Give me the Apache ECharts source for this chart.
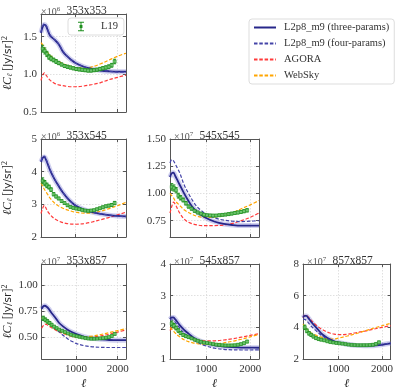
<!DOCTYPE html>
<html>
<head>
<meta charset="utf-8">
<script src="https://cdn.jsdelivr.net/npm/echarts@6/dist/echarts.min.js"></script>
<style>html,body{margin:0;padding:0;background:#fff}#c{width:396px;height:391px}</style>
</head>
<body>
<div id="c"></div>
<script>
// ---------- data ----------
const ellModel = [180,220,260,300,350,400,500,600,700,800,900,1000,1200,1400,1600,1800,2000,2200];
const ellL19 = [220,270,320,370,420,480,540,600,670,740,810,880,950,1020,1090,1160,1230,1300,1370,1440,1510,1580,1650,1720,1790,1860,1930];
const panelNames = ['353x353','353x545','545x545','353x857','545x857','857x857'];
const panelExponent = [6,6,7,7,7,7];
const yTicks = [[0.5,1.0,1.5],[2,3,4,5],[0.75,1.00,1.25,1.50],[0.50,0.75,1.00],[1,2,3,4],[2,4,6,8]];
const yRange = [[0.5,1.8],[2,5],[0.6,1.5],[0.29,1.2],[1,4],[2,8]];
const xTicks = [1000,2000];

const three_353x353 = [1.55,1.63,1.66,1.64,1.57,1.51,1.46,1.40,1.30,1.24,1.19,1.15,1.10,1.07,1.05,1.04,1.035,1.035];
const four_353x353  = [1.56,1.64,1.67,1.65,1.58,1.52,1.46,1.40,1.31,1.24,1.19,1.15,1.10,1.07,1.05,1.04,1.03,1.03];
const agora_353x353 = [0.92,0.99,1.02,0.99,0.95,0.92,0.88,0.86,0.85,0.84,0.835,0.835,0.845,0.865,0.89,0.93,0.96,0.99];
const websky_353x353= [1.42,1.39,1.35,1.31,1.28,1.25,1.20,1.17,1.14,1.12,1.10,1.09,1.08,1.10,1.14,1.19,1.24,1.28];
const l19_353x353   = [1.34,1.31,1.27,1.23,1.21,1.19,1.17,1.15,1.13,1.11,1.10,1.09,1.08,1.07,1.065,1.06,1.055,1.05,1.05,1.055,1.06,1.07,1.08,1.09,1.10,1.12,1.17];
const err_353x353   = [0.045,0.04,0.035,0.03,0.03,0.025,0.025,0.022,0.02,0.02,0.02,0.02,0.02,0.02,0.02,0.02,0.02,0.02,0.02,0.02,0.02,0.022,0.022,0.022,0.025,0.025,0.03];

const three_353x545 = [4.30,4.42,4.45,4.36,4.20,4.03,3.77,3.56,3.36,3.20,3.07,2.96,2.84,2.76,2.71,2.67,2.645,2.63];
const four_353x545  = [4.33,4.45,4.48,4.39,4.22,4.05,3.78,3.57,3.37,3.21,3.08,2.97,2.84,2.76,2.71,2.67,2.64,2.62];
const agora_353x545 = [2.72,2.88,2.97,2.88,2.76,2.68,2.56,2.49,2.44,2.41,2.395,2.39,2.41,2.46,2.53,2.60,2.68,2.76];
const websky_353x545= [3.65,3.55,3.46,3.38,3.28,3.18,3.04,2.95,2.88,2.83,2.79,2.76,2.73,2.74,2.79,2.87,2.96,3.06];
const l19_353x545   = [3.72,3.65,3.58,3.53,3.45,3.31,3.24,3.18,3.10,3.04,2.97,2.92,2.89,2.87,2.85,2.83,2.81,2.80,2.81,2.82,2.85,2.88,2.91,2.94,2.96,2.98,3.04];
const err_353x545   = [0.09,0.08,0.07,0.06,0.055,0.05,0.045,0.04,0.04,0.035,0.035,0.035,0.035,0.035,0.035,0.035,0.035,0.035,0.035,0.035,0.035,0.035,0.04,0.04,0.04,0.045,0.05];

const three_545x545 = [1.15,1.185,1.19,1.16,1.12,1.08,1.00,0.93,0.87,0.83,0.80,0.775,0.74,0.72,0.71,0.705,0.705,0.705];
const four_545x545  = [1.28,1.31,1.30,1.27,1.23,1.19,1.08,1.00,0.93,0.875,0.84,0.81,0.775,0.755,0.745,0.742,0.745,0.75];
const agora_545x545 = [0.82,0.88,0.92,0.90,0.86,0.82,0.765,0.735,0.72,0.71,0.705,0.705,0.705,0.71,0.725,0.75,0.78,0.82];
const websky_545x545= [1.00,0.98,0.96,0.93,0.91,0.89,0.85,0.825,0.805,0.79,0.782,0.78,0.785,0.80,0.825,0.86,0.895,0.935];
const l19_545x545   = [1.06,1.05,1.03,0.98,0.96,0.94,0.91,0.88,0.86,0.84,0.825,0.815,0.805,0.80,0.798,0.797,0.797,0.80,0.803,0.806,0.81,0.815,0.82,0.825,0.83,0.837,0.845];
const err_545x545   = [0.03,0.028,0.025,0.022,0.02,0.018,0.016,0.014,0.013,0.012,0.012,0.011,0.011,0.011,0.011,0.011,0.011,0.011,0.011,0.011,0.012,0.012,0.012,0.013,0.013,0.014,0.015];

const three_353x857 = [0.77,0.795,0.80,0.79,0.77,0.74,0.69,0.635,0.60,0.57,0.548,0.53,0.503,0.488,0.478,0.472,0.47,0.47];
const four_353x857  = [0.665,0.675,0.675,0.665,0.645,0.625,0.585,0.55,0.515,0.485,0.46,0.44,0.418,0.407,0.402,0.40,0.40,0.40];
const agora_353x857 = [0.585,0.61,0.625,0.62,0.605,0.595,0.57,0.55,0.533,0.52,0.507,0.50,0.495,0.50,0.512,0.528,0.548,0.568];
const websky_353x857= [0.685,0.67,0.655,0.64,0.625,0.61,0.585,0.56,0.54,0.525,0.513,0.506,0.503,0.51,0.525,0.543,0.562,0.58];
const l19_353x857   = [0.68,0.665,0.65,0.635,0.618,0.60,0.585,0.572,0.56,0.548,0.535,0.523,0.515,0.508,0.502,0.496,0.49,0.486,0.484,0.484,0.485,0.488,0.49,0.494,0.50,0.51,0.53];
const err_353x857   = [0.02,0.018,0.016,0.014,0.013,0.012,0.011,0.01,0.009,0.009,0.008,0.008,0.008,0.008,0.008,0.008,0.008,0.008,0.008,0.008,0.008,0.008,0.009,0.009,0.009,0.01,0.011];

const three_545x857 = [2.26,2.31,2.31,2.25,2.16,2.07,1.92,1.80,1.69,1.61,1.55,1.50,1.43,1.395,1.375,1.362,1.358,1.356];
const four_545x857  = [2.22,2.24,2.22,2.16,2.07,1.98,1.82,1.70,1.61,1.53,1.46,1.41,1.34,1.305,1.29,1.285,1.285,1.29];
const agora_545x857 = [1.90,1.98,2.00,1.96,1.90,1.84,1.74,1.68,1.63,1.60,1.58,1.57,1.575,1.60,1.64,1.69,1.745,1.80];
const websky_545x857= [2.00,1.94,1.88,1.82,1.75,1.70,1.61,1.55,1.51,1.485,1.47,1.465,1.475,1.51,1.56,1.625,1.70,1.78];
const l19_545x857   = [2.12,2.05,1.98,1.90,1.82,1.76,1.72,1.69,1.65,1.61,1.575,1.545,1.52,1.505,1.49,1.47,1.455,1.445,1.435,1.43,1.43,1.43,1.435,1.45,1.47,1.50,1.55];
const err_545x857   = [0.08,0.07,0.06,0.055,0.05,0.045,0.04,0.035,0.033,0.03,0.03,0.028,0.028,0.028,0.028,0.028,0.028,0.028,0.028,0.028,0.028,0.03,0.03,0.03,0.032,0.035,0.04];

const three_857x857 = [4.62,4.72,4.72,4.60,4.42,4.24,3.94,3.62,3.40,3.24,3.12,3.05,2.93,2.86,2.83,2.84,2.90,2.99];
const four_857x857  = [4.50,4.50,4.42,4.30,4.12,3.98,3.74,3.50,3.33,3.20,3.08,3.00,2.90,2.84,2.83,2.86,2.93,3.02];
const agora_857x857 = [4.60,4.75,4.75,4.65,4.50,4.35,4.10,3.90,3.75,3.64,3.57,3.54,3.56,3.66,3.76,3.88,4.00,4.10];
const websky_857x857= [4.20,4.05,3.90,3.78,3.68,3.60,3.48,3.38,3.30,3.26,3.27,3.32,3.45,3.60,3.77,3.94,4.10,4.25];
const l19_857x857   = [4.00,3.78,3.62,3.52,3.42,3.32,3.26,3.22,3.18,3.12,3.07,3.04,3.01,2.99,2.97,2.94,2.91,2.89,2.88,2.87,2.87,2.87,2.87,2.88,2.90,2.95,3.05];
const err_857x857   = [0.14,0.12,0.11,0.10,0.09,0.08,0.075,0.07,0.065,0.06,0.06,0.055,0.055,0.055,0.055,0.055,0.055,0.055,0.055,0.055,0.055,0.06,0.06,0.06,0.065,0.07,0.08];

const threeSets = [three_353x353,three_353x545,three_545x545,three_353x857,three_545x857,three_857x857];
const fourSets  = [four_353x353,four_353x545,four_545x545,four_353x857,four_545x857,four_857x857];
const agoraSets = [agora_353x353,agora_353x545,agora_545x545,agora_353x857,agora_545x857,agora_857x857];
const webskySets= [websky_353x353,websky_353x545,websky_545x545,websky_353x857,websky_545x857,websky_857x857];
const l19Sets   = [l19_353x353,l19_353x545,l19_545x545,l19_353x857,l19_545x857,l19_857x857];
const errSets   = [err_353x353,err_353x545,err_545x545,err_353x857,err_545x857,err_857x857];

const NAME3 = 'L2p8_m9 (three-params)', NAME4 = 'L2p8_m9 (four-params)', NAMEA = 'AGORA', NAMEW = 'WebSky', NAMEL = 'L19';

// ---------- layout ----------
const colLeft = [37, 170, 303];
const rowTop = [14, 139, 264];
const PW = 89, PH = 98;
const place = [[0,0],[1,0],[1,1],[2,0],[2,1],[2,2]]; // [row, col]
const yDecimals = [1,0,2,2,0,0];
const SERIF = 'Liberation Serif';
const FRAME = '#555';

const chart = echarts.init(document.getElementById('c'), null, {renderer:'canvas'});

const grids = [], xAxes = [], yAxes = [], series = [], titles = [];
const yNameRich = {
  c: {fontFamily:SERIF, fontSize:12, fontStyle:'italic', color:'#222'},
  sub: {fontFamily:'DejaVu Serif', fontSize:7.5, fontStyle:'italic', color:'#222', padding:[5,0,0,0]},
  t: {fontFamily:SERIF, fontSize:12, color:'#222'},
  sans: {fontFamily:'DejaVu Sans', fontSize:10.5, color:'#222'},
  sup: {fontFamily:SERIF, fontSize:8, color:'#222', padding:[0,0,6,0]}
};

function pair(arrX, arrY){ return arrX.map((x,i)=>[x, arrY[i]]); }

for (let p = 0; p < 6; p++) {
  const [r, c] = place[p];
  const left = colLeft[c], top = rowTop[r];
  grids.push({left:left, top:top, width:PW, height:PH, show:false});
  const isBottom = r === 2;
  const isLeft = c === 0;
  const dec = yDecimals[p];
  const baseX = {
    type:'value', gridIndex:p, min:180, max:2200,
    axisLine:{show:true, onZero:false, lineStyle:{color:FRAME, width:1}},
    axisTick:{show:true, inside:true, length:3, customValues:xTicks, lineStyle:{color:FRAME}},
    splitLine:{show:false}
  };
  xAxes.push(Object.assign({}, baseX, {
    position:'bottom',
    axisLabel:{show:isBottom, customValues:xTicks, fontFamily:SERIF, fontSize:11, color:'#333', margin:5,
               formatter:(v)=>String(Math.round(v))},
    splitLine:{show:true, lineStyle:{color:'#d8d8d8', type:[1.5,1.5], width:0.8}},
    name: isBottom ? 'ℓ' : '',
    nameLocation:'middle', nameGap:19,
    nameTextStyle:{fontFamily:'DejaVu Serif', fontStyle:'italic', fontSize:12, color:'#222'}
  }));
  xAxes.push(Object.assign({}, baseX, {position:'top', axisLabel:{show:false}}));
  const baseY = {
    type:'value', gridIndex:p, min:yRange[p][0], max:yRange[p][1],
    axisLine:{show:true, onZero:false, lineStyle:{color:FRAME, width:1}},
    axisTick:{show:true, inside:true, length:3, customValues:yTicks[p], lineStyle:{color:FRAME}},
    splitLine:{show:false}
  };
  yAxes.push(Object.assign({}, baseY, {
    position:'left',
    axisLabel:{show:true, customValues:yTicks[p], fontFamily:SERIF, fontSize:11, color:'#333', margin:4,
               formatter:(v)=>Number(v).toFixed(dec)},
    splitLine:{show:true, lineStyle:{color:'#d8d8d8', type:[1.5,1.5], width:0.8}},
    name: isLeft ? '{c|ℓC}{sub|ℓ}{t| [}{sans|Jy/sr}{t|]}{sup|2}' : '',
    nameLocation:'middle', nameRotate:90, nameGap:26,
    nameTextStyle:{rich:yNameRich}
  }));
  yAxes.push(Object.assign({}, baseY, {position:'right', axisLabel:{show:false}}));

  const xi = 2*p, yi = 2*p;
  series.push({
    name:'band', type:'line', xAxisIndex:xi, yAxisIndex:yi, data:pair(ellModel, threeSets[p]),
    symbol:'none', smooth:0.35, silent:true, z:1,
    lineStyle:{color:'rgba(120,120,210,0.35)', width:5}
  });
  series.push({
    name:NAMEA, type:'line', xAxisIndex:xi, yAxisIndex:yi, data:pair(ellModel, agoraSets[p]),
    symbol:'none', smooth:0.35, z:3,
    lineStyle:{color:'#ff3a3a', width:1.2, type:[3.5,1.8]}, itemStyle:{color:'#ff3a3a'}
  });
  series.push({
    name:NAMEW, type:'line', xAxisIndex:xi, yAxisIndex:yi, data:pair(ellModel, webskySets[p]),
    symbol:'none', smooth:0.35, z:3,
    lineStyle:{color:'#ffa500', width:1.2, type:[3.5,1.8]}, itemStyle:{color:'#ffa500'}
  });
  series.push({
    name:NAME3, type:'line', xAxisIndex:xi, yAxisIndex:yi, data:pair(ellModel, threeSets[p]),
    symbol:'none', smooth:0.35, z:4,
    lineStyle:{color:'#27278a', width:1.8}, itemStyle:{color:'#27278a'}
  });
  series.push({
    name:NAME4, type:'line', xAxisIndex:xi, yAxisIndex:yi, data:pair(ellModel, fourSets[p]),
    symbol:'none', smooth:0.35, z:4,
    lineStyle:{color:'#4444a8', width:1.2, type:[3.5,1.8]}, itemStyle:{color:'#4444a8'}
  });
  series.push({
    name:NAMEL, type:'custom', xAxisIndex:xi, yAxisIndex:yi, z:5,
    data: ellL19.map((x,i)=>[x, l19Sets[p][i], errSets[p][i]]),
    encode:{x:0, y:1},
    itemStyle:{color:'#1f8f1f'},
    renderItem:function(params, api){
      const x = api.value(0), y = api.value(1), e = api.value(2);
      const t = api.coord([x, y+e]), b = api.coord([x, y-e]), m = api.coord([x, y]);
      const col = '#1f8f1f';
      return {type:'group', children:[
        {type:'line', shape:{x1:t[0],y1:t[1],x2:b[0],y2:b[1]}, style:{stroke:col, lineWidth:1}},
        {type:'line', shape:{x1:t[0]-1.5,y1:t[1],x2:t[0]+1.5,y2:t[1]}, style:{stroke:col, lineWidth:1}},
        {type:'line', shape:{x1:b[0]-1.5,y1:b[1],x2:b[0]+1.5,y2:b[1]}, style:{stroke:col, lineWidth:1}},
        {type:'rect', shape:{x:m[0]-1.5,y:m[1]-1.5,width:3,height:3}, style:{fill:'rgba(110,200,110,0.85)', stroke:col, lineWidth:0.6}}
      ]};
    }
  });

  titles.push({
    text:panelNames[p], left:left + PW/2, top:top - 14, textAlign:'center',
    textStyle:{fontFamily:SERIF, fontSize:11.5, fontWeight:'normal', color:'#333'}
  });
  titles.push({
    text:'×10{s|' + panelExponent[p] + '}', left:left - 1, top:top - 13,
    textStyle:{fontFamily:SERIF, fontSize:10, fontWeight:'normal', color:'#555',
      rich:{s:{fontFamily:SERIF, fontSize:7, color:'#555', padding:[0,0,5,0]}}}
  });
}

const option = {
  animation:false,
  backgroundColor:'#fff',
  title:titles,
  grid:grids,
  xAxis:xAxes,
  yAxis:yAxes,
  legend:[
    {
      data:[NAME3, NAME4, NAMEA, NAMEW],
      orient:'vertical', left:249, top:19,
      itemWidth:22, itemHeight:10, itemGap:5,
      padding:[3,5,3,4],
      backgroundColor:'#fff', borderColor:'#ddd', borderWidth:1, borderRadius:3,
      selectedMode:false,
      itemStyle:{opacity:0},
      textStyle:{fontFamily:SERIF, fontSize:10.5, color:'#333', lineHeight:10, padding:[0,0,0,3]}
    },
    {
      data:[{name:NAMEL, icon:'path://M0,0h7v1.2h-7z M2.9,0h1.2v11h-1.2z M0,9.8h7v1.2h-7z M1.8,3.8h3.4v3.4h-3.4z'}],
      left:68, top:18,
      itemWidth:6, itemHeight:11, itemGap:5,
      padding:[3,6,3,10],
      backgroundColor:'#fff', borderColor:'#ddd', borderWidth:1, borderRadius:3,
      selectedMode:false,
      textStyle:{fontFamily:SERIF, fontSize:10.5, color:'#333', padding:[0,0,0,12]}
    }
  ],
  series:series
};
chart.setOption(option);
</script>
</body>
</html>
